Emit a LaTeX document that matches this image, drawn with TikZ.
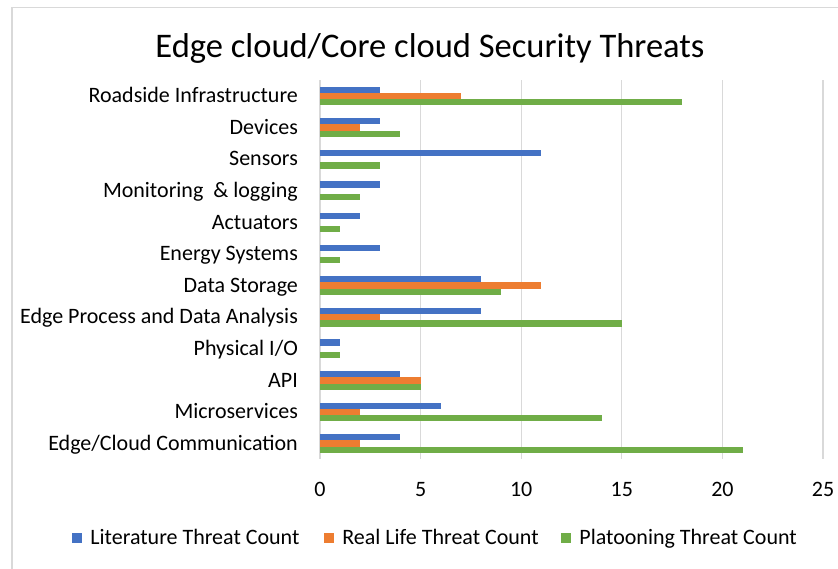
\documentclass[tikz,border=0pt]{standalone}
\usepackage{fontspec}
\setmainfont{Carlito}
\usetikzlibrary{positioning}
\definecolor{litblue}{HTML}{4472C4}
\definecolor{realorange}{HTML}{ED7D31}
\definecolor{platgreen}{HTML}{70AD47}
\definecolor{gridgray}{HTML}{D9D9D9}

\begin{document}
\begin{tikzpicture}[x=1pt, y=-1pt,
  litbar/.style={fill=litblue},
  realbar/.style={fill=realorange},
  platbar/.style={fill=platgreen},
  gridline/.style={draw=gridgray, line width=1.3pt},
  cat/.style={anchor=east, inner sep=0pt, text height=16pt, text depth=2.6pt, font=\fontsize{22}{24}\selectfont},
  tick/.style={inner sep=0pt, font=\fontsize{22}{24}\selectfont},
  legsq/.style={minimum size=10pt, inner sep=0pt},
  legtext/.style={inner sep=0pt, text height=16pt, text depth=2pt, font=\fontsize{22}{24}\selectfont}]
\useasboundingbox (0,0) rectangle (838,569);
\draw[gridgray, line width=1.5pt] (12,569) -- (12,7.5) -- (838,7.5); % chart frame
\node (title) at (430,48) {\fontsize{34.5}{38}\selectfont Edge cloud/Core cloud Security Threats};

\begin{scope}[xshift=320pt, yshift=-96pt, x=20.12pt, y=-3.16pt]
% vertical grid, one line every 5
\draw[gridline] (0,-5) -- (0,115) (5,-5) -- (5,115) (10,-5) -- (10,115)
  (15,-5) -- (15,115) (20,-5) -- (20,115) (25,-5) -- (25,115);
% bars, row i sits at y = 10i
\path[litbar]   (0,-3) rectangle (3,-1);
\path[realbar]  (0,-1) rectangle (7,1);
\path[platbar]  (0,1) rectangle (18,3);
\path[litbar]   (0,7) rectangle (3,9);
\path[realbar]  (0,9) rectangle (2,11);
\path[platbar]  (0,11) rectangle (4,13);
\path[litbar]   (0,17) rectangle (11,19);
\path[platbar]  (0,21) rectangle (3,23);
\path[litbar]   (0,27) rectangle (3,29);
\path[platbar]  (0,31) rectangle (2,33);
\path[litbar]   (0,37) rectangle (2,39);
\path[platbar]  (0,41) rectangle (1,43);
\path[litbar]   (0,47) rectangle (3,49);
\path[platbar]  (0,51) rectangle (1,53);
\path[litbar]   (0,57) rectangle (8,59);
\path[realbar]  (0,59) rectangle (11,61);
\path[platbar]  (0,61) rectangle (9,63);
\path[litbar]   (0,67) rectangle (8,69);
\path[realbar]  (0,69) rectangle (3,71);
\path[platbar]  (0,71) rectangle (15,73);
\path[litbar]   (0,77) rectangle (1,79);
\path[platbar]  (0,81) rectangle (1,83);
\path[litbar]   (0,87) rectangle (4,89);
\path[realbar]  (0,89) rectangle (5,91);
\path[platbar]  (0,91) rectangle (5,93);
\path[litbar]   (0,97) rectangle (6,99);
\path[realbar]  (0,99) rectangle (2,101);
\path[platbar]  (0,101) rectangle (14,103);
\path[litbar]   (0,107) rectangle (4,109);
\path[realbar]  (0,109) rectangle (2,111);
\path[platbar]  (0,111) rectangle (21,113);
% category names
\node[cat] (roadside) at (-1.09,0) {Roadside Infrastructure};
\node[cat] (devices) at (-1.09,10) {Devices};
\node[cat] (sensors) at (-1.09,20) {Sensors};
\node[cat] (monitoring) at (-1.09,30) {Monitoring\ \ \& logging};
\node[cat] (actuators) at (-1.09,40) {Actuators};
\node[cat] (energy) at (-1.09,50) {Energy Systems};
\node[cat] (storage) at (-1.09,60) {Data Storage};
\node[cat] (process) at (-1.09,70) {Edge Process and Data Analysis};
\node[cat] (physio) at (-1.09,80) {Physical I/O};
\node[cat] (api) at (-1.09,90) {API};
\node[cat] (micro) at (-1.09,100) {Microservices};
\node[cat] (edgecomm) at (-1.09,110) {Edge/Cloud Communication};
% axis numbers
\node[tick] (t0) at (0,124.4) {0};
\node[tick] (t5) at (5,124.4) {5};
\node[tick] (t10) at (10,124.4) {10};
\node[tick] (t15) at (15,124.4) {15};
\node[tick] (t20) at (20,124.4) {20};
\node[tick] (t25) at (25,124.4) {25};
\end{scope}

% legend
\node[legsq, fill=litblue] (k1) at (77,537.5) {};
\node[legtext, right=8pt of k1] (l1) {Literature Threat Count};
\node[legsq, fill=realorange] (k2) at (329,537.5) {};
\node[legtext, right=8pt of k2] (l2) {Real Life Threat Count};
\node[legsq, fill=platgreen] (k3) at (566,537.5) {};
\node[legtext, right=8pt of k3] (l3) {Platooning Threat Count};
\end{tikzpicture}
\end{document}
